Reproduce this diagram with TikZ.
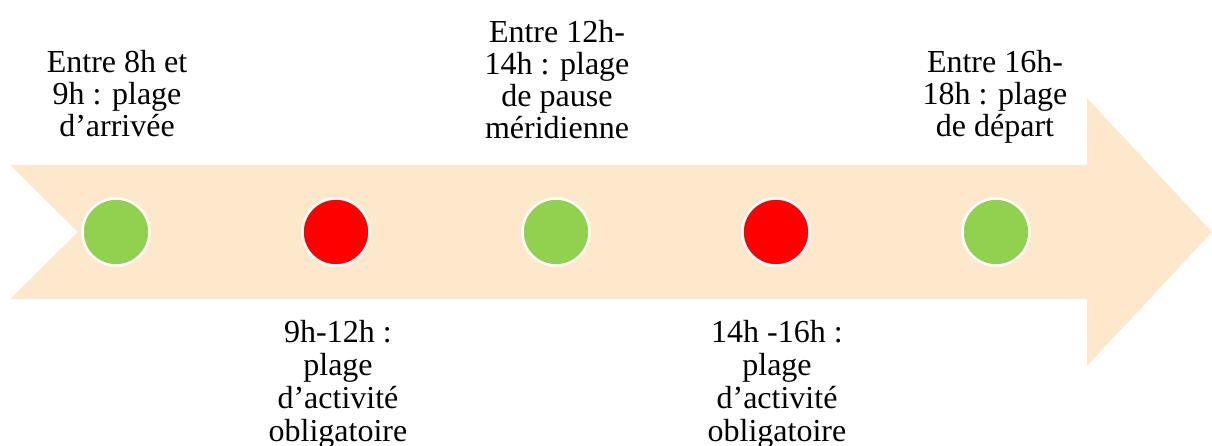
\documentclass[tikz,border=0pt]{standalone}
\usepackage{fontspec}
\setmainfont{Liberation Serif}
\definecolor{peach}{HTML}{FEE8CC}
\definecolor{okgreen}{HTML}{92D050}
\definecolor{stopred}{HTML}{FF0000}
\tikzset{
  band/.style={fill=peach, draw=none},
  dot/.style={circle, minimum size=67pt, inner sep=0pt, draw=white, line width=2.5pt},
  greendot/.style={dot, fill=okgreen},
  reddot/.style={dot, fill=stopred},
  lbl/.style={anchor=base, inner sep=0pt, font=\fontsize{32}{32}\selectfont},
  lowlbl/.style={anchor=base, inner sep=0pt, font=\fontsize{32}{33}\selectfont}
}
\newcommand{\lines}[1]{\begin{tabular}[t]{@{}c@{}}#1\end{tabular}}
\begin{document}
\begin{tikzpicture}[x=1pt,y=-1pt]
\useasboundingbox (0,0) rectangle (1212,446);
\fill[band] (10,165) -- (1087,165) -- (1087,98) -- (1212,232) -- (1087,366) -- (1087,299) -- (10,299) -- (78,232) -- cycle;
\node[greendot] (d1) at (116,232) {};
\node[reddot]   (d2) at (336,232) {};
\node[greendot] (d3) at (556,232) {};
\node[reddot]   (d4) at (776,232) {};
\node[greendot] (d5) at (996,232) {};
\node[lbl] (t1) at (117,73) {\lines{Entre 8h et\\9h : plage\\d’arrivée}};
\node[lbl] (t3) at (557,43) {\lines{Entre 12h-\\14h : plage\\de pause\\méridienne}};
\node[lbl] (t5) at (995,73) {\lines{Entre 16h-\\18h : plage\\de départ}};
\node[lowlbl] (b2) at (338,342) {\lines{9h-12h :\\plage\\d’activité\\obligatoire}};
\node[lowlbl] (b4) at (777,342) {\lines{14h -16h :\\plage\\d’activité\\obligatoire}};
\end{tikzpicture}
\end{document}
